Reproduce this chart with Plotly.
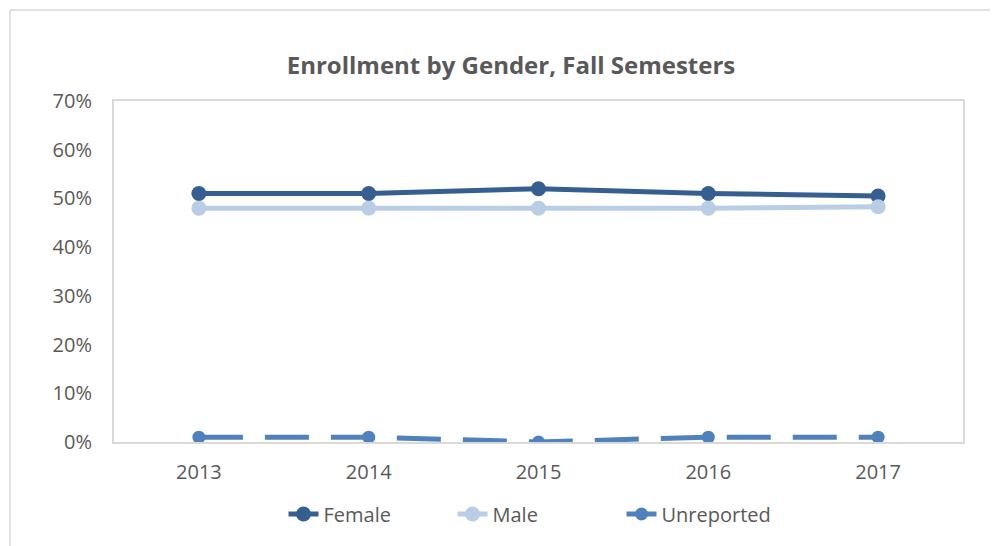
import plotly.graph_objects as go

years = ["2013", "2014", "2015", "2016", "2017"]
female = [0.51, 0.51, 0.52, 0.51, 0.505]
male = [0.48, 0.48, 0.48, 0.48, 0.483]
unreported = [0.01, 0.01, 0.0, 0.01, 0.01]

W, H = 998, 546
OFF = 8  # page body margin
L, T = 114 - OFF, 101 - OFF
R = W - (963 - OFF)
B = H - (442 - OFF)
pw, ph = W - L - R, H - T - B

fig = go.Figure()
fig.add_trace(go.Scatter(
    x=years, y=female, name="Female", mode="lines+markers",
    line=dict(color="#365f91", width=5),
    marker=dict(size=15, color="#365f91"),
))
fig.add_trace(go.Scatter(
    x=years, y=male, name="Male", mode="lines+markers",
    line=dict(color="#b9cde5", width=5),
    marker=dict(size=15, color="#b9cde5"),
))
fig.add_trace(go.Scatter(
    x=years, y=unreported, name="Unreported", mode="lines+markers",
    line=dict(color="#4f81bd", width=5, dash="44px,22px"),
    marker=dict(size=13, color="#4f81bd", symbol="circle"),
))

# outer chart-area border (top and left visible)
x0 = (10 - OFF - L) / pw
y0 = 1 + (T - (10 - OFF)) / ph
fig.add_shape(type="line", xref="paper", yref="paper", x0=x0, x1=1.2, y0=y0, y1=y0,
              line=dict(color="#d9d9d9", width=1.5))
fig.add_shape(type="line", xref="paper", yref="paper", x0=x0, x1=x0, y0=y0, y1=-0.5,
              line=dict(color="#d9d9d9", width=1.5))

fig.update_layout(
    width=W, height=H,
    margin=dict(l=L, r=R, t=T, b=B),
    paper_bgcolor="white", plot_bgcolor="white",
    font=dict(family="Open Sans, sans-serif", color="#595959", size=20),
    title=dict(text="<b>Enrollment by Gender, Fall Semesters</b>",
               xref="container", x=(511 - OFF) / W, xanchor="center",
               y=1 - (66 - OFF) / H, yanchor="middle",
               font=dict(size=24, color="#595959")),
    legend=dict(orientation="h", x=(537 - OFF - L) / pw, xanchor="center",
                y=-(514 - 442) / ph, yanchor="middle", entrywidth=124,
                font=dict(size=20, color="#595959")),
)
fig.update_xaxes(type="category", range=[-0.5, 4.5], showgrid=False,
                 showline=True, linecolor="#d9d9d9", linewidth=2, mirror=True,
                 ticks="", ticklabelstandoff=11)
fig.update_yaxes(range=[0, 0.7], dtick=0.1, tickformat=".0%", showgrid=False,
                 showline=True, linecolor="#d9d9d9", linewidth=2, mirror=True,
                 zeroline=False, ticks="", ticklabelstandoff=16)

fig.write_html("out.html")
